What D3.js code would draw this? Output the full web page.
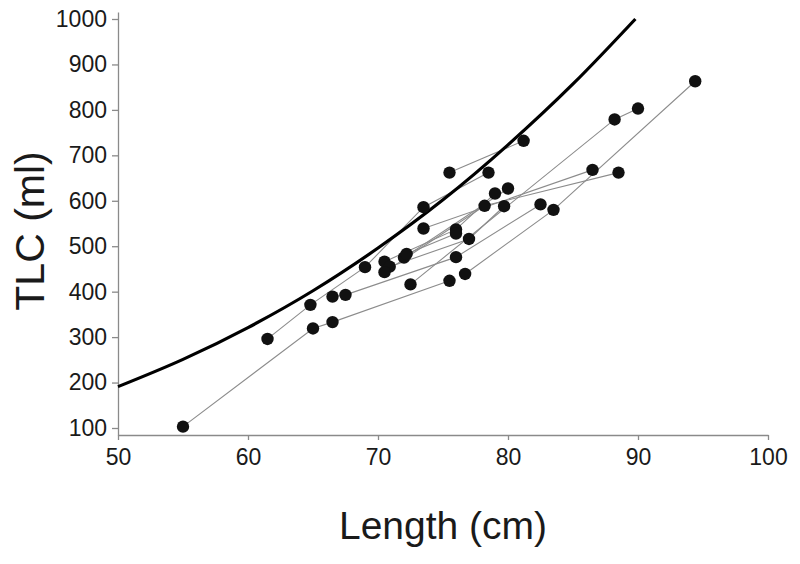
<!DOCTYPE html>
<html><head><meta charset="utf-8">
<script src="https://cdn.jsdelivr.net/npm/d3@7"></script>
<style>
html,body{margin:0;padding:0;background:#fff;}
svg{display:block;font-family:"Liberation Sans",Arial,sans-serif;}
</style></head>
<body>
<svg id="chart" width="800" height="564"></svg>
<script>
// Measurements: length (cm) and TLC (ml), subject id for connecting lines
const lengths = [55.0, 61.5, 64.8, 65.0, 66.5, 66.5, 67.5, 69.0, 70.5, 70.9, 70.5, 72.0, 72.2, 72.5, 73.5, 73.5, 75.5, 75.5, 76.0, 76.0, 76.0, 76.7, 77.0, 78.2, 78.5, 79.0, 79.7, 80.0, 81.2, 82.5, 83.5, 86.5, 88.2, 88.5, 90.0, 94.4];
const tlcValues = [103, 296, 371, 319, 389, 333, 393, 454, 466, 455, 443, 475, 483, 416, 586, 539, 662, 424, 537, 528, 476, 439, 516, 589, 662, 616, 588, 627, 732, 592, 580, 668, 779, 662, 803, 863];
const subjects = [1, 2, 2, 1, 3, 1, 3, 2, 8, 9, 12, 10, 11, 4, 2, 6, 7, 1, 8, 11, 3, 5, 9, 12, 2, 8, 9, 10, 7, 3, 5, 6, 4, 12, 4, 5];

// Reference curve
const curveLength = [50, 55, 60, 65, 70, 75, 80, 85, 89.8];
const curveTLC = [191, 251, 321, 402, 496, 602, 723, 857, 1000];

const xTicks = [50, 60, 70, 80, 90, 100];
const yTicks = [100, 200, 300, 400, 500, 600, 700, 800, 900, 1000];
const xTitle = "Length (cm)";
const yTitle = "TLC (ml)";

const svg = d3.select("#chart");
const x = d3.scaleLinear().domain([50, 100]).range([118, 768]);
const yPad = 7 * 900 / 409;
const y = d3.scaleLinear().domain([100 - yPad, 1000 + yPad]).range([435, 12]);

const axisColor = "#8a8a8a";
const textColor = "#1a1a1a";
const fmt = d3.format("d");

// X axis
const gx = svg.append("g").attr("transform", `translate(0,${y.range()[0]})`)
  .call(d3.axisBottom(x).tickValues(xTicks).tickFormat(fmt).tickSize(5).tickSizeOuter(0).tickPadding(9));
gx.select(".domain").attr("stroke", axisColor).attr("stroke-width", 1.3);
gx.selectAll(".tick line").attr("stroke", axisColor).attr("stroke-width", 1.3);
gx.selectAll(".tick text").attr("fill", textColor).attr("font-size", 23).attr("font-family", "Liberation Sans, Arial, sans-serif");

// Y axis
const gy = svg.append("g").attr("transform", `translate(${x.range()[0]},0)`)
  .call(d3.axisLeft(y).tickValues(yTicks).tickFormat(fmt).tickSize(6).tickSizeOuter(0).tickPadding(5));
gy.select(".domain").attr("stroke", axisColor).attr("stroke-width", 1.3);
gy.selectAll(".tick line").attr("stroke", axisColor).attr("stroke-width", 1.3);
gy.selectAll(".tick text").attr("fill", textColor).attr("font-size", 23).attr("font-family", "Liberation Sans, Arial, sans-serif");

// Connecting lines per subject
const pts = lengths.map((l, i) => ({l, v: tlcValues[i], s: subjects[i]}));
const groups = d3.groups(pts, d => d.s);
const line = d3.line().x(d => x(d.l)).y(d => y(d.v));
svg.append("g").selectAll("path").data(groups).join("path")
  .attr("d", g => line(g[1].slice().sort((a, b) => a.l - b.l)))
  .attr("fill", "none").attr("stroke", "#8c8c8c").attr("stroke-width", 1.1);

// Reference curve
const cData = curveLength.map((l, i) => ({l, v: curveTLC[i]}));
svg.append("path").datum(cData)
  .attr("d", d3.line().x(d => x(d.l)).y(d => y(d.v)).curve(d3.curveMonotoneX))
  .attr("fill", "none").attr("stroke", "#000").attr("stroke-width", 3.2);

// Points
svg.append("g").selectAll("circle").data(pts).join("circle")
  .attr("cx", d => x(d.l)).attr("cy", d => y(d.v)).attr("r", 6.2)
  .attr("fill", "#111");

// Titles
svg.append("text").attr("x", 443).attr("y", 539).attr("text-anchor", "middle")
  .attr("font-size", 39).attr("fill", textColor).text(xTitle);
svg.append("text").attr("transform", "translate(44,231) rotate(-90)").attr("text-anchor", "middle")
  .attr("font-size", 41).attr("fill", textColor).text(yTitle);
</script>
</body></html>
